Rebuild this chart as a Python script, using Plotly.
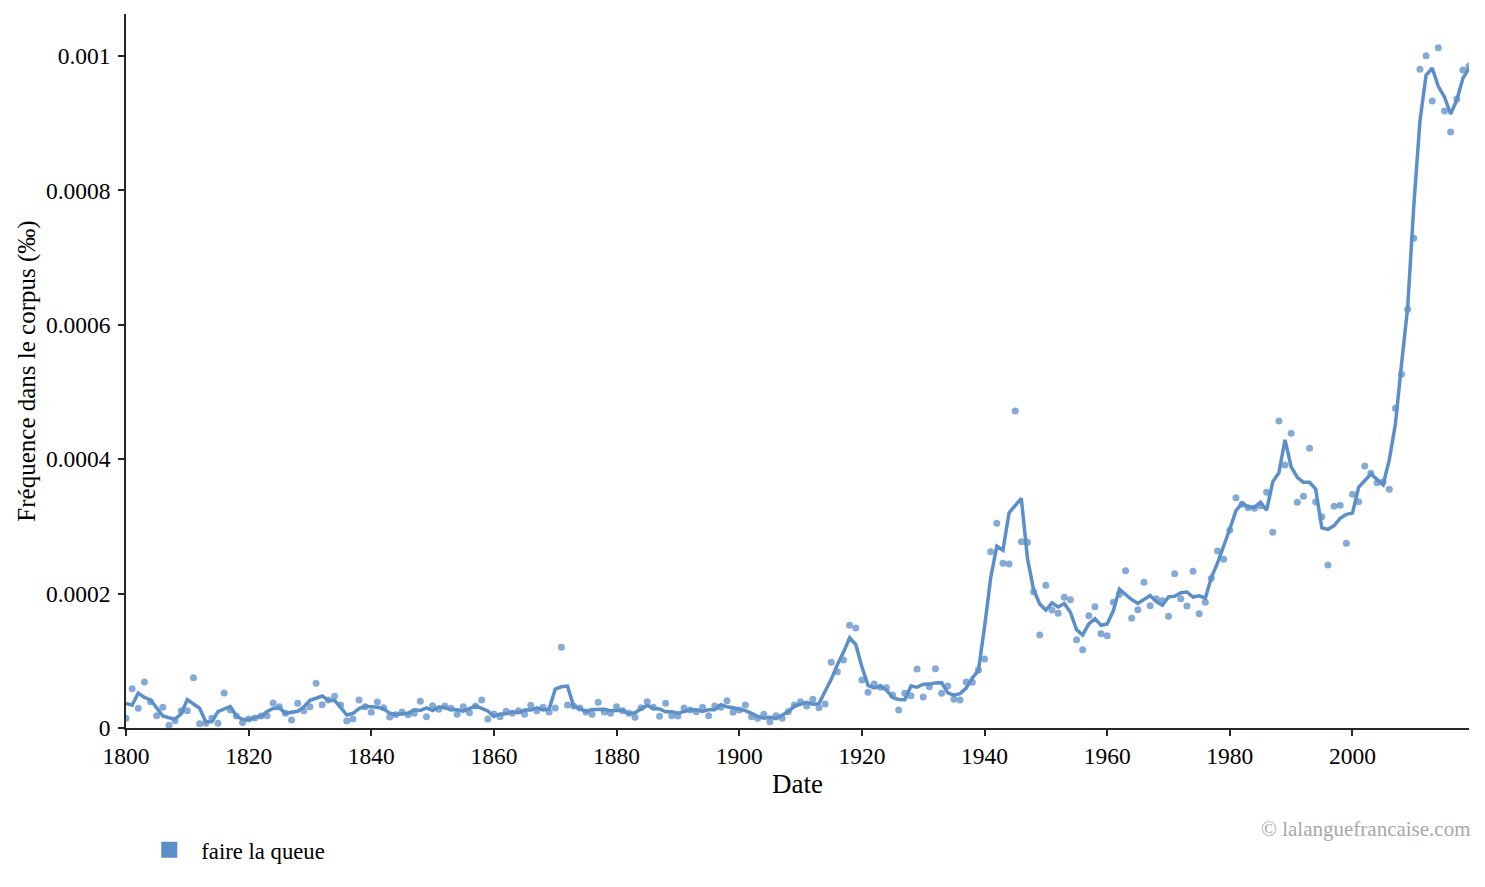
import pandas as pd
import plotly.graph_objects as go

# years 1800..2019, one value per year (units of 1e-5 ‰)
years = list(range(1800, 2020))
freq_e5 = [
    1.44, 5.85, 2.93, 6.85, 3.9, 1.83, 3.1, 0.4, 1.09, 2.58,
    2.58, 7.49, 0.65, 0.7, 1.44, 0.69, 5.2, 2.68, 1.79, 0.8,
    1.34, 1.49, 1.79, 1.84, 3.72, 3.17, 2.18, 1.19, 3.67, 2.58,
    3.17, 6.65, 3.47, 4.17, 4.71, 3.42, 1.04, 1.34, 4.17, 3.17,
    2.33, 3.87, 3.03, 1.64, 1.98, 2.38, 1.98, 2.18, 3.97, 1.69,
    3.3, 2.8, 3.27, 2.93, 2.03, 3.17, 2.28, 3.27, 4.17, 1.34,
    2.08, 1.69, 2.48, 2.18, 2.58, 2.03, 3.37, 2.58, 3.08, 2.38,
    2.98, 12.0, 3.42, 3.27, 2.98, 2.38, 2.03, 3.82, 2.38, 2.18,
    3.17, 2.58, 2.18, 1.59, 3.03, 3.92, 3.08, 1.74, 3.67, 1.84,
    1.79, 2.98, 2.68, 2.43, 3.08, 1.84, 3.27, 3.08, 4.07, 2.33,
    2.68, 3.42, 1.69, 1.44, 2.03, 0.94, 1.84, 1.44, 2.43, 3.42,
    3.92, 3.27, 4.27, 3.03, 3.57, 9.77, 8.38, 10.12, 15.28, 14.88,
    7.14, 5.31, 6.55, 6.06, 6.0, 4.91, 2.68, 5.16, 4.81, 8.78,
    4.61, 6.15, 8.83, 5.16, 6.25, 4.27, 4.17, 6.85, 6.8, 8.63,
    10.27, 26.24, 30.46, 24.5, 24.4, 47.17, 27.73, 27.63, 20.29, 13.84,
    21.23, 17.56, 17.06, 19.44, 19.1, 13.15, 11.66, 16.72, 18.06, 14.04,
    13.74, 18.7, 19.89, 23.41, 16.32, 17.61, 21.68, 18.2, 19.25, 18.95,
    16.62, 22.97, 19.25, 18.15, 23.31, 17.01, 18.7, 22.27, 26.34, 25.1,
    29.46, 34.27, 33.3, 32.78, 32.69, 33.04, 35.07, 29.12, 45.68, 39.14,
    43.85, 33.58, 34.47, 41.62, 33.63, 31.45, 24.26, 32.99, 33.13, 27.48,
    34.77, 33.68, 38.99, 37.9, 36.5, 36.6, 35.52, 47.57, 52.63, 62.3,
    72.87, 98.02, 100.05, 93.3, 101.24, 91.82, 88.69, 93.6, 97.92, 98.5,
]
y_ticks = [0, 0.0002, 0.0004, 0.0006, 0.0008, 0.001]
y_tick_labels = ["0", "0.0002", "0.0004", "0.0006", "0.0008", "0.001"]
x_ticks = list(range(1800, 2020, 20))

df = pd.DataFrame({"year": years, "freq": [v * 1e-5 for v in freq_e5]})
# smoothed curve = centred 3-year moving average
df["smooth"] = df["freq"].rolling(3, center=True, min_periods=1).mean()

blue = "#5b8fc9"
font = "Liberation Serif, Times New Roman, serif"

fig = go.Figure()
fig.add_trace(go.Scatter(x=df["year"], y=df["freq"], mode="markers",
                         marker=dict(color=blue, size=7, opacity=0.75),
                         showlegend=False, hoverinfo="skip"))
fig.add_trace(go.Scatter(x=df["year"], y=df["smooth"], mode="lines",
                         line=dict(color=blue, width=3.5), showlegend=False))
# legend entry (square swatch)
fig.add_trace(go.Scatter(x=[None], y=[None], mode="markers", name="faire la queue",
                         marker=dict(color=blue, symbol="square", size=20)))

# page adds an 8px body margin, so the figure is shifted/shrunk by 8px
fig.update_layout(
    width=1477, height=879,
    margin=dict(l=118, r=16, t=6, b=159),
    plot_bgcolor="white", paper_bgcolor="white",
    font=dict(family=font, size=23.5, color="black"),
    legend=dict(x=0.0084, y=-0.171, xanchor="left", yanchor="middle",
                font=dict(size=22.7), itemwidth=54, bgcolor="rgba(0,0,0,0)"),
    annotations=[dict(text="© lalanguefrancaise.com", xref="paper", yref="paper",
                      x=1.0, y=-0.1415, xanchor="right", yanchor="middle", xshift=4,
                      showarrow=False, font=dict(size=21, color="#a8a8a8"))],
)
fig.update_xaxes(range=[1800, 2019], tickvals=x_ticks, tickformat="d",
                 showgrid=False, zeroline=False, showline=True, linecolor="#262626",
                 linewidth=1.6, ticks="outside", ticklen=6, tickwidth=1.6,
                 tickcolor="#262626", title=dict(text="Date", font=dict(size=27), standoff=6))
fig.update_yaxes(range=[0, 0.0010625], tickvals=y_ticks, ticktext=y_tick_labels,
                 showgrid=False, zeroline=False, showline=True, linecolor="#262626",
                 linewidth=1.6, ticks="outside", ticklen=6, tickwidth=1.6,
                 tickcolor="#262626", ticklabelstandoff=3,
                 title=dict(text="Fréquence dans le corpus (‰)", font=dict(size=25), standoff=3))

fig.write_html("out.html")
